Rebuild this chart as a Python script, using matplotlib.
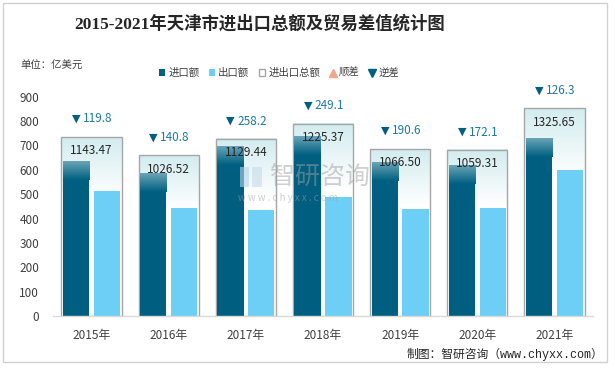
import matplotlib.pyplot as plt
import numpy as np
from matplotlib.patches import Rectangle, Patch
from matplotlib.lines import Line2D
from matplotlib.colors import to_rgba

plt.rcParams['font.family'] = ['Noto Sans CJK SC', 'DejaVu Sans']

years = ['2015年', '2016年', '2017年', '2018年', '2019年', '2020年', '2021年']
imports = [631.6, 583.7, 693.8, 737.2, 628.6, 615.7, 726.0]
exports = [511.8, 442.9, 435.6, 488.1, 438.0, 443.6, 599.7]
totals = [1143.47, 1026.52, 1129.44, 1225.37, 1066.50, 1059.31, 1325.65]
deficits = [119.8, 140.8, 258.2, 249.1, 190.6, 172.1, 126.3]
total_labels = ['1143.47', '1026.52', '1129.44', '1225.37', '1066.50', '1059.31', '1325.65']

dark = '#005f80'
light = '#6dcff6'
text_col = '#404040'


def vgrad(top, bottom, n=64):
    c0 = np.array(to_rgba(top))
    c1 = np.array(to_rgba(bottom))
    t = np.linspace(0, 1, n)[:, None]
    return (c0 * (1 - t) + c1 * t).reshape(n, 1, 4)


fig = plt.figure(figsize=(6.15, 3.7), dpi=100)
fig.patches.append(Rectangle((3 / 615, 8 / 370), 604 / 615, 359 / 370,
                             transform=fig.transFigure, fill=False,
                             edgecolor='#d0d0d0', lw=1))

pos = [53 / 615, 54 / 370, 540 / 615, 219.3 / 370]
x = np.arange(len(years))

# hidden axis for the totals box (own scale)
axb = fig.add_axes(pos)
axb.axis('off')
box_w = 0.78
boxes = axb.bar(x, totals, width=box_w, color='white', lw=0, zorder=1)
for r in boxes:
    x0, w, h = r.get_x(), r.get_width(), r.get_height()
    axb.imshow(vgrad('#d3ecef', '#ffffff'), extent=[x0, x0 + w, h * 0.66, h],
               aspect='auto', zorder=1.5, interpolation='bilinear')
axb.bar(x, totals, width=box_w, fill=False, edgecolor='#a6a6a6', lw=1.0, zorder=2)
axb.set_xlim(-0.5, len(years) - 0.5)
axb.set_ylim(0, 1400)

# main axis
ax = fig.add_axes(pos, facecolor='none')
bw = 0.34
off = 0.2
b1 = ax.bar(x - off, imports, width=bw, color=dark, zorder=2)
ax.bar(x + off, exports, width=bw, color=light, zorder=2)
for r in b1:
    x0, w, h = r.get_x(), r.get_width(), r.get_height()
    ax.imshow(vgrad('#6aa5b8', dark), extent=[x0, x0 + w, h - 75, h],
              aspect='auto', zorder=2.5, interpolation='bilinear')

for r, lab, d in zip(boxes, total_labels, deficits):
    cx, h = r.get_x() + r.get_width() / 2, r.get_height()
    ax.annotate(lab, (cx, h), xycoords=axb.transData, xytext=(0, -10),
                textcoords='offset points', ha='center', va='center',
                fontsize=8.5, color='#262626', zorder=5)
    ax.annotate('▼', (cx, h), xycoords=axb.transData, xytext=(-11, 13),
                textcoords='offset points', ha='center', va='center', fontsize=8,
                color=dark, family=['DejaVu Sans'], zorder=5)
    ax.annotate('%.1f' % d, (cx, h), xycoords=axb.transData, xytext=(-6, 13),
                textcoords='offset points', ha='left', va='center',
                fontsize=8.5, color='#1f7a9c', zorder=5)

ax.set_xlim(-0.5, len(years) - 0.5)
ax.set_ylim(0, 900)
ax.set_yticks(range(0, 901, 100))
ax.set_xticks(x)
ax.set_xticklabels(years)
for s in ['left', 'right', 'top']:
    ax.spines[s].set_visible(False)
ax.spines['bottom'].set_color('#d9d9d9')
ax.spines['bottom'].set_linewidth(1)
ax.tick_params(length=0, labelsize=8.5, colors=text_col)
ax.tick_params(axis='y', pad=10)
ax.tick_params(axis='x', pad=9)

# watermark
fig.text(270 / 615, 1 - 177 / 370, '智研咨询', fontsize=18, color='#a0a0a0', alpha=0.5,
         ha='left', va='center')
fig.text(238 / 615, 1 - 198 / 370, 'w w w . c h y x x . c o m', fontsize=7,
         color='#a0a0a0', alpha=0.5, ha='left', va='center')
fig.patches.append(Rectangle((240 / 615, 1 - 187 / 370), 9 / 615, 20 / 370,
                             transform=fig.transFigure, color='#b7d3ea', alpha=0.6, lw=0))
fig.patches.append(Rectangle((252 / 615, 1 - 187 / 370), 10 / 615, 20 / 370,
                             transform=fig.transFigure, color='#c8daea', alpha=0.6, lw=0))

fig.text(260 / 615, 1 - 24 / 370, '2015-2021年天津市进出口总额及贸易差值统计图',
         family=['Liberation Serif', 'Noto Sans CJK SC'], fontweight='bold',
         fontsize=12.5, color='#262626', ha='center', va='center')
fig.text(20 / 615, 1 - 66 / 370, '单位：亿美元', fontsize=7.5, color=text_col,
         ha='left', va='center')
fig.text(603 / 615, 1 - 354 / 370, '制图：智研咨询（www.chyxx.com）', fontsize=8.5,
         color='#262626', ha='right', va='center',
         family=['Liberation Mono', 'Noto Sans CJK SC'])

handles = [
    Patch(facecolor=dark),
    Patch(facecolor=light),
    Patch(facecolor='white', edgecolor='#a6a6a6'),
    Line2D([], [], marker='^', ls='none', color='#f4a58a', markersize=6),
    Line2D([], [], marker='v', ls='none', color=dark, markersize=6),
]
fig.legend(handles, ['进口额', '出口额', '进出口总额', '顺差', '逆差'],
           loc='center', bbox_to_anchor=(279 / 615, 1 - 73 / 370), ncol=5,
           frameon=False, fontsize=7.5, handlelength=0.6, handleheight=0.6,
           handletextpad=0.3, columnspacing=0.9, labelcolor=text_col)

fig.savefig('out.png', dpi=100)
